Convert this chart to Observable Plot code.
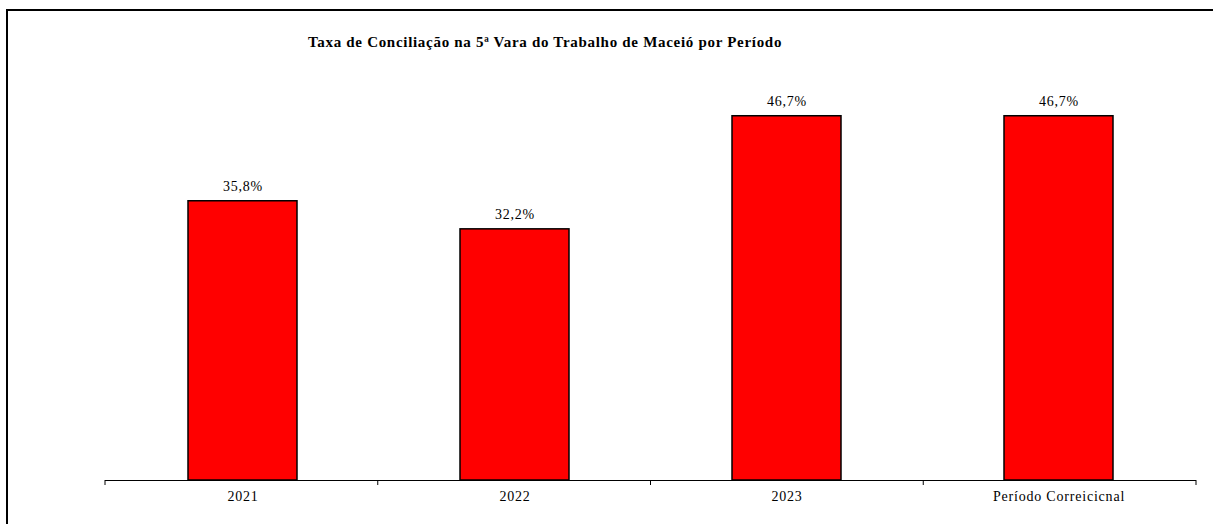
<!DOCTYPE html>
<html>
<head>
<meta charset="utf-8">
<script src="https://cdn.jsdelivr.net/npm/d3@7"></script>
<script src="https://cdn.jsdelivr.net/npm/@observablehq/plot@0.6"></script>
<style>
  html, body { margin: 0; padding: 0; background: #fff; overflow: hidden; }
  #wrap { position: relative; width: 1213px; height: 524px; }
  #frame { position: absolute; left: 6px; top: 9px; width: 1300px; height: 600px;
           border-left: 2px solid #000; border-top: 2px solid #000; box-sizing: border-box; }
  #title { position: absolute; left: 0; width: 1090px; top: 34px; text-align: center;
           font-family: "Liberation Serif", serif; font-weight: bold;
           font-size: 15px; letter-spacing: 0.7px; color: #000; white-space: nowrap; }
  #chart { position: absolute; left: 0; top: 0; }
  #chart svg text { font-family: "Liberation Serif", serif; }
</style>
</head>
<body>
<div id="wrap">
  <div id="frame"></div>
  <div id="chart"></div>
  <div id="title">Taxa de Conciliação na 5ª Vara do Trabalho de Maceió por Período</div>
</div>
<script>
const categories = ["2021", "2022", "2023", "Período Correicicnal"];
const values = [35.8, 32.2, 46.7, 46.7];

const data = categories.map((c, i) => ({cat: c, value: values[i]}));
const fmt = v => d3.format(".1f")(v).replace(".", ",") + "%";

const boundaryTicks = (index, scales, vals, dims) => {
  const n = categories.length;
  const x0 = dims.marginLeft, x1 = dims.width - dims.marginRight;
  const step = (x1 - x0) / n;
  const y0 = scales.y(0);
  const g = d3.create("svg:g");
  for (let i = 0; i <= n; i++) {
    const x = x0 + i * step;
    g.append("line").attr("x1", x).attr("x2", x).attr("y1", y0).attr("y2", y0 + 5)
      .attr("stroke", "#000").attr("stroke-width", 1);
  }
  return g.node();
};

const chart = Plot.plot({
  width: 1213,
  height: 524,
  marginLeft: 105,
  marginRight: 17,
  marginTop: 90,
  marginBottom: 44,
  style: {fontFamily: "'Liberation Serif', serif", fontSize: "14px", color: "#000", background: "transparent", letterSpacing: "0.8px"},
  x: {domain: categories, paddingInner: 0.6, paddingOuter: 0.3, label: null},
  y: {domain: [0, 50], axis: null},
  marks: [
    Plot.barY(data, {x: "cat", y: "value", fill: "#FF0000", stroke: "#000", strokeWidth: 1.5}),
    Plot.ruleY([0], {stroke: "#000", strokeWidth: 1.2}),
    boundaryTicks,
    Plot.text(data, {x: "cat", y: "value", text: d => fmt(d.value), dy: -15, fontSize: 14, fill: "#000"}),
    Plot.axisX({tickSize: 0, tickPadding: 11, fontSize: 14, fill: "#000", label: null})
  ]
});
document.getElementById("chart").appendChild(chart);
</script>
</body>
</html>
